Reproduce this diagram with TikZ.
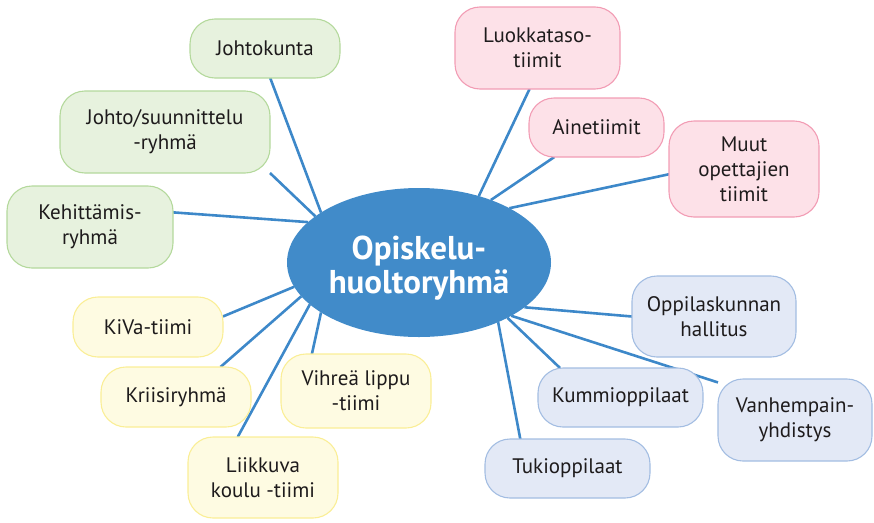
\documentclass[tikz,border=0pt]{standalone}
\usepackage{fontspec}
\setmainfont{PT Sans}
\usetikzlibrary{backgrounds,shapes.geometric}
\definecolor{gfill}{HTML}{E7F2DE}
\definecolor{gline}{HTML}{B4D99C}
\definecolor{pfill}{HTML}{FDE1E8}
\definecolor{pline}{HTML}{F29CB4}
\definecolor{bfill}{HTML}{E3E9F6}
\definecolor{bline}{HTML}{A3BDE2}
\definecolor{yfill}{HTML}{FEFBE2}
\definecolor{yline}{HTML}{FAEE96}
\definecolor{eblue}{HTML}{418BC9}
\definecolor{lblue}{HTML}{3D88C9}
\definecolor{txt}{HTML}{1E1B1C}
\tikzset{
  box/.style={draw, rounded corners=25pt, line width=1.1pt, inner sep=0pt, outer sep=0pt,
    align=center, font=\fontsize{21}{25}\selectfont, text=txt},
  grn/.style={box, fill=gfill, draw=gline},
  pnk/.style={box, fill=pfill, draw=pline},
  blu/.style={box, fill=bfill, draw=bline},
  ylw/.style={box, fill=yfill, draw=yline},
  conn/.style={draw=lblue, line width=2.6pt},
  hub/.style={ellipse, fill=eblue, inner sep=0pt, outer sep=0pt, text=white,
    align=center, font=\fontsize{33}{34}\selectfont\bfseries}
}
\begin{document}
\begin{tikzpicture}[x=1pt,y=-1pt]
\useasboundingbox (0,0) rectangle (874,522);
\node[hub, minimum width=264pt, minimum height=149pt] (c) at (419,262.5) {\rule{0pt}{35pt}Opiskelu-\\huoltoryhmä};
% green
\node[grn, minimum width=150pt, minimum height=59pt] (joh) at (265,48.5) {Johtokunta};
\node[grn, minimum width=210pt, minimum height=82pt] (jsu) at (165,132) {Johto/suunnittelu\\-ryhmä};
\node[grn, minimum width=166pt, minimum height=82pt] (keh) at (90,227) {Kehittämis-\\ryhmä};
% pink
\node[pnk, minimum width=165pt, minimum height=82pt] (luo) at (537.5,48) {Luokkataso-\\tiimit};
\node[pnk, minimum width=135pt, minimum height=59pt] (ain) at (596.5,127.5) {Ainetiimit};
\node[pnk, minimum width=150pt, minimum height=96pt] (muu) at (744,169) {Muut\\opettajien\\tiimit};
% blue
\node[blu, minimum width=164pt, minimum height=81pt] (opp) at (714,316.5) {Oppilaskunnan\\hallitus};
\node[blu, minimum width=165pt, minimum height=59pt] (kum) at (620.5,397.5) {Kummioppilaat};
\node[blu, minimum width=154pt, minimum height=82pt] (van) at (795,420) {Vanhempain-\\yhdistys};
\node[blu, minimum width=165pt, minimum height=59pt] (tuk) at (567.5,468.5) {Tukioppilaat};
% yellow
\node[ylw, minimum width=150pt, minimum height=60pt] (kiv) at (148,327) {KiVa-tiimi};
\node[ylw, minimum width=150pt, minimum height=60pt] (kri) at (176,397) {Kriisiryhmä};
\node[ylw, minimum width=150pt, minimum height=74pt] (vih) at (356,391) {Vihreä lippu\\-tiimi};
\node[ylw, minimum width=150pt, minimum height=81pt] (lii) at (263,477.5) {Liikkuva\\koulu -tiimi};
\begin{scope}[on background layer]
\draw[conn] (joh.-80.4) -- (c.153.2);
\draw[conn] (jsu.south east) -- (c.156.8);
\draw[conn] (keh.10.9) -- (c.160.9);
\draw[conn] (luo.-101.7) -- (c.48.9);
\draw[conn] (ain.-145.9) -- (c.41.4);
\draw[conn] (muu.-176.9) -- (c.31.9);
\draw[conn] (opp.180) -- (c.-23.7);
\draw[conn] (kum.154.7) -- (c.-32.9);
\draw[conn] (van.154.1) -- (c.-30.1);
\draw[conn] (tuk.148.7) -- (c.-37);
\draw[conn] (kiv.8.3) -- (c.191);
\draw[conn] (kri.34.3) -- (c.196.4);
\draw[conn] (lii.122.7) -- (c.201.8);
\draw[conn] (vih.140.1) -- (c.207);
\end{scope}
\end{tikzpicture}
\end{document}
